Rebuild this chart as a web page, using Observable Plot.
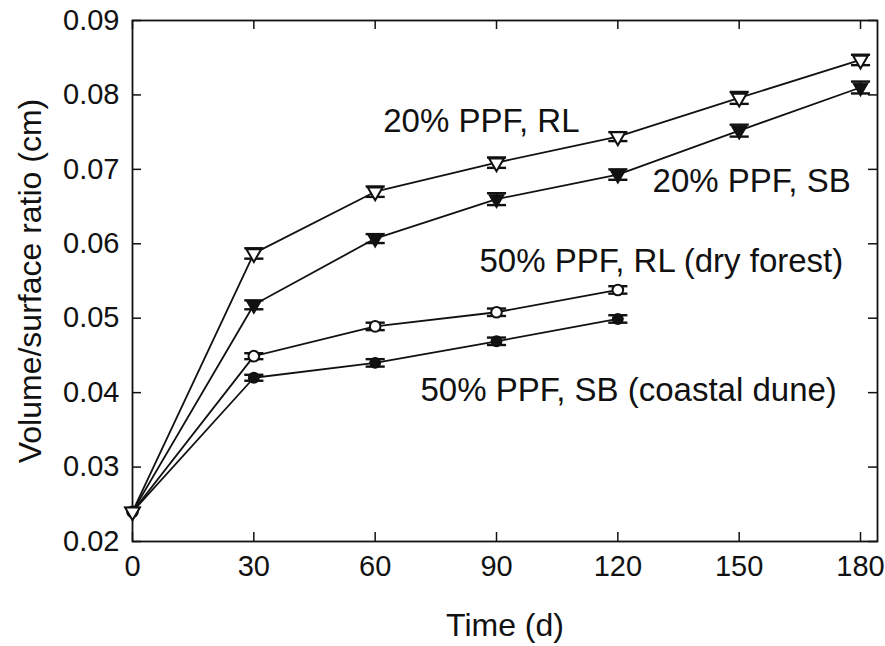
<!DOCTYPE html>
<html>
<head>
<meta charset="utf-8">
<script src="https://cdn.jsdelivr.net/npm/d3@7"></script>
<script src="https://cdn.jsdelivr.net/npm/@observablehq/plot@0.6"></script>
<style>
  html, body { margin: 0; padding: 0; background: #fff; }
</style>
</head>
<body>
<div id="chart"></div>
<script>
// ---- data ----
const days20 = [0, 30, 60, 90, 120, 150, 180];
const rl20   = [0.024, 0.0587, 0.0670, 0.0709, 0.0744, 0.0796, 0.0847];
const rl20Err= [0, 0.0007, 0.0007, 0.0007, 0.0006, 0.0008, 0.0007];
const sb20   = [0.024, 0.0518, 0.0607, 0.0660, 0.0693, 0.0752, 0.0810];
const sb20Err= [0, 0.0006, 0.0006, 0.0008, 0.0007, 0.0008, 0.0008];

const days50 = [0, 30, 60, 90, 120];
const rl50   = [0.024, 0.0449, 0.0489, 0.0508, 0.0538];
const rl50Err= [0, 0.0004, 0.0005, 0.0005, 0.0005];
const sb50   = [0.024, 0.0420, 0.0440, 0.0469, 0.0499];
const sb50Err= [0, 0.0004, 0.0005, 0.0005, 0.0005];

const seriesNames = ["20% PPF, RL", "20% PPF, SB", "50% PPF, RL (dry forest)", "50% PPF, SB (coastal dune)"];
const labelX = [62, 128.6, 85.8, 71.2];
const labelY = [0.0764, 0.0684, 0.0576, 0.0403];

const xTicks = [0, 30, 60, 90, 120, 150, 180];
const yTicks = [0.02, 0.03, 0.04, 0.05, 0.06, 0.07, 0.08, 0.09];
const xTitle = "Time (d)";
const yTitle = "Volume/surface ratio (cm)";

// ---- build tables ----
function rows(name, days, vals, errs) {
  return days.map((d, i) => ({series: name, day: d, v: vals[i], lo: vals[i] - errs[i], hi: vals[i] + errs[i], err: errs[i]}));
}
const RL20 = rows(seriesNames[0], days20, rl20, rl20Err);
const SB20 = rows(seriesNames[1], days20, sb20, sb20Err);
const RL50 = rows(seriesNames[2], days50, rl50, rl50Err);
const SB50 = rows(seriesNames[3], days50, sb50, sb50Err);
const all = [...SB50, ...RL50, ...SB20, ...RL20];
const withErr = all.filter(d => d.err > 0);
const labels = seriesNames.map((s, i) => ({text: s, x: labelX[i], y: labelY[i]}));

const capSymbol = {
  draw(ctx, size) {
    const w = Math.sqrt(size) * 0.9;
    ctx.moveTo(-w, 0); ctx.lineTo(w, 0);
  }
};

const W = 885, H = 646, mL = 132, mR = 8, mT = 20, mB = 105;
const frameH = H - mT - mB, frameW = W - mL - mR;
const tick = 9;
const font = "'Liberation Sans', Arial, Helvetica, sans-serif";

const chart = Plot.plot({
  width: W, height: H,
  marginLeft: mL, marginRight: mR, marginTop: mT, marginBottom: mB,
  style: {fontFamily: font, background: "#fff", color: "#111"},
  x: {domain: [0, 184.2]},
  y: {domain: [0.02, 0.09]},
  marks: [
    Plot.axisX(xTicks, {tickSize: 0, tickPadding: 14, fontSize: 29, label: null}),
    Plot.axisY(yTicks, {tickSize: 0, tickPadding: 13, fontSize: 29, tickFormat: d3.format(".2f"), label: null}),
    // inward ticks on all four sides
    Plot.tickX(xTicks, {x: d => d, insetTop: frameH - tick, stroke: "#111", strokeWidth: 1.5}),
    Plot.tickX(xTicks, {x: d => d, insetBottom: frameH - tick, stroke: "#111", strokeWidth: 1.5}),
    Plot.tickY(yTicks, {y: d => d, insetRight: frameW - tick, stroke: "#111", strokeWidth: 1.5}),
    Plot.tickY(yTicks, {y: d => d, insetLeft: frameW - tick, stroke: "#111", strokeWidth: 1.5}),
    Plot.frame({stroke: "#111", strokeWidth: 1.8}),
    // lines
    Plot.line(all, {x: "day", y: "v", z: "series", stroke: "#111", strokeWidth: 1.8}),
    // error bars
    Plot.ruleX(withErr, {x: "day", y1: "lo", y2: "hi", stroke: "#111", strokeWidth: 1.8}),
    Plot.dot(withErr, {x: "day", y: "lo", symbol: capSymbol, r: 6, stroke: "#111", strokeWidth: 2.4}),
    Plot.dot(withErr, {x: "day", y: "hi", symbol: capSymbol, r: 6, stroke: "#111", strokeWidth: 2.4}),
    // markers
    Plot.dot(SB50, {x: "day", y: "v", symbol: "circle", r: 5.3, fill: "#111", stroke: "#111", strokeWidth: 1.3}),
    Plot.dot(RL50, {x: "day", y: "v", symbol: "circle", r: 5.3, fill: "#fff", stroke: "#111", strokeWidth: 2}),
    Plot.dot(SB20, {x: "day", y: "v", symbol: "triangle", rotate: 180, r: 5.5, fill: "#111", stroke: "#111", strokeWidth: 1.3}),
    Plot.dot(RL20, {x: "day", y: "v", symbol: "triangle", rotate: 180, r: 5.5, fill: "#fff", stroke: "#111", strokeWidth: 2}),
    // annotations
    Plot.text(labels, {x: "x", y: "y", text: "text", textAnchor: "start", fontSize: 33, fill: "#111"}),
    // axis titles
    Plot.text([xTitle], {text: d => d, frameAnchor: "bottom", dy: 84, lineAnchor: "middle", textAnchor: "middle", fontSize: 32, fill: "#111"}),
    Plot.text([yTitle], {text: d => d, frameAnchor: "left", dx: -102, rotate: -90, textAnchor: "middle", lineAnchor: "middle", fontSize: 32, fill: "#111"})
  ]
});
document.getElementById("chart").appendChild(chart);
</script>
</body>
</html>
